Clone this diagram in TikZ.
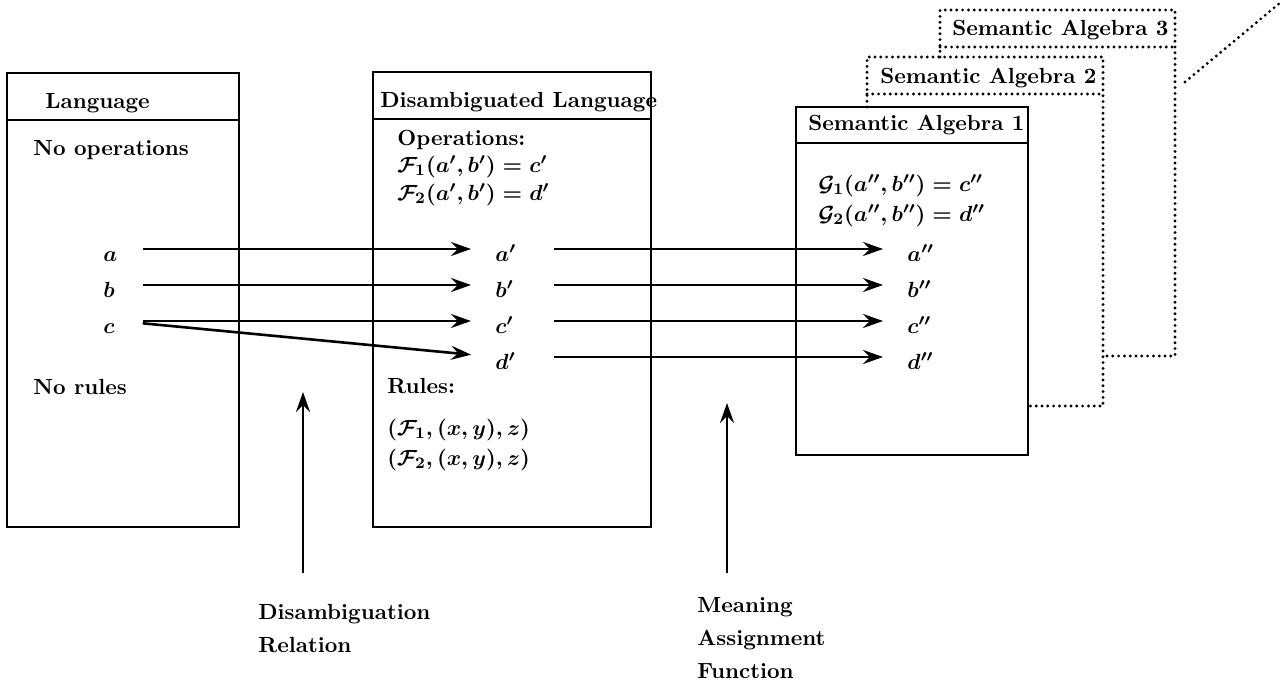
\documentclass[tikz,border=0pt]{standalone}
\usetikzlibrary{arrows.meta}
\tikzset{
  box/.style={line width=1.3pt},
  ghost/.style={line width=1.6pt, dash pattern=on 0pt off 2.9pt, line cap=round},
  arr/.style={line width=1.3pt, -{Stealth[length=10pt,width=7pt,inset=3.5pt]}},
  txt/.style={anchor=base west, inner sep=0pt},
  elem/.style={anchor=west, inner sep=0pt, text width=#1, text height=12pt, text depth=0pt},
  elem/.default=8pt,
  lbl/.style={anchor=north west, inner sep=0pt, align=left,
    font=\fontsize{10.95}{16.5}\selectfont\bfseries},
}
\begin{document}
\begin{tikzpicture}[x=0.5pt, y=-0.5pt,
    font=\fontsize{10.95}{13}\selectfont\bfseries\boldmath]
\useasboundingbox (0,0) rectangle (1283,686);

% the three frames
\draw[box] (7,73) rectangle (239,527);
\draw[box] (7,120) -- (239,120);
\draw[box] (373,72) rectangle (651,527);
\draw[box] (373,119) -- (651,119);
\draw[box] (796,107) rectangle (1028,455);
\draw[box] (796,143) -- (1028,143);

% further algebras behind
\draw[ghost] (867,107) -- (867,57) -- (1103,57) -- (1103,406) -- (1028,406);
\draw[ghost] (867,94) -- (1103,94);
\draw[ghost] (940,57) -- (940,10) -- (1175,10) -- (1175,356) -- (1103,356);
\draw[ghost] (940,47) -- (1175,47);
\draw[ghost] (1185,82) -- (1281,2);

% headings and contents
\node[txt] (lang) at (45,108) {Language};
\node[txt] (noops) at (33,155) {No operations};
\node[txt] (norules) at (33,394) {No rules};

\node[txt] (dlang) at (380,107) {Disambiguated Language};
\node[txt] (ops) at (397,145) {Operations:};
\node[txt] (f1) at (397,172) {$\mathcal{F}_1(a',b')=c'$};
\node[txt] (f2) at (397,200) {$\mathcal{F}_2(a',b')=d'$};
\node[txt] (rules) at (387,393) {Rules:};
\node[txt] (r1) at (387,435) {$(\mathcal{F}_1,(x,y),z)$};
\node[txt] (r2) at (387,465) {$(\mathcal{F}_2,(x,y),z)$};

\node[txt] (sa1) at (808,130) {Semantic Algebra 1};
\node[txt] (sa2) at (880,83) {Semantic Algebra 2};
\node[txt] (sa3) at (952,35) {Semantic Algebra 3};
\node[txt] (g1) at (818,191) {$\mathcal{G}_1(a'',b'')=c''$};
\node[txt] (g2) at (818,221) {$\mathcal{G}_2(a'',b'')=d''$};

% elements
\node[elem=7.5pt] (a) at (103,249) {$a$};
\node[elem=7.5pt] (b) at (103,285) {$b$};
\node[elem=7.5pt] (c) at (103,321) {$c$};
\node[elem=10pt] (a1) at (495,249) {$a'$};
\node[elem=10pt] (b1) at (495,285) {$b'$};
\node[elem=10pt] (c1) at (495,321) {$c'$};
\node[elem=10pt] (d1) at (495,357) {$d'$};
\node[elem=12pt] (a2) at (907,249) {$a''$};
\node[elem=12pt] (b2) at (907,285) {$b''$};
\node[elem=12pt] (c2) at (907,321) {$c''$};
\node[elem=12pt] (d2) at (907,357) {$d''$};

\draw[arr, shorten <=12pt, shorten >=12pt] (a.east) -- (a1.west);
\draw[arr, shorten <=12pt, shorten >=12pt] (b.east) -- (b1.west);
\draw[arr, shorten <=12pt, shorten >=12pt] (c.east) -- (c1.west);
\draw[arr, shorten <=12pt, shorten >=12pt] (c.east) -- (d1.west);
\foreach \s in {a,b,c,d}
  \draw[arr, shorten <=19pt, shorten >=12pt] (\s1.east) -- (\s2.west);

% the two maps
\coordinate (drtip) at (303,392);
\coordinate (drfoot) at (303,573);
\coordinate (matip) at (727,403);
\coordinate (mafoot) at (727,573);
\draw[arr] (drfoot) -- (drtip);
\draw[arr] (mafoot) -- (matip);
\node[lbl] (drel) at (258,604) {Disambiguation\\Relation};
\node[lbl] (mfun) at (697,597) {Meaning\\Assignment\\Function};
\end{tikzpicture}
\end{document}
